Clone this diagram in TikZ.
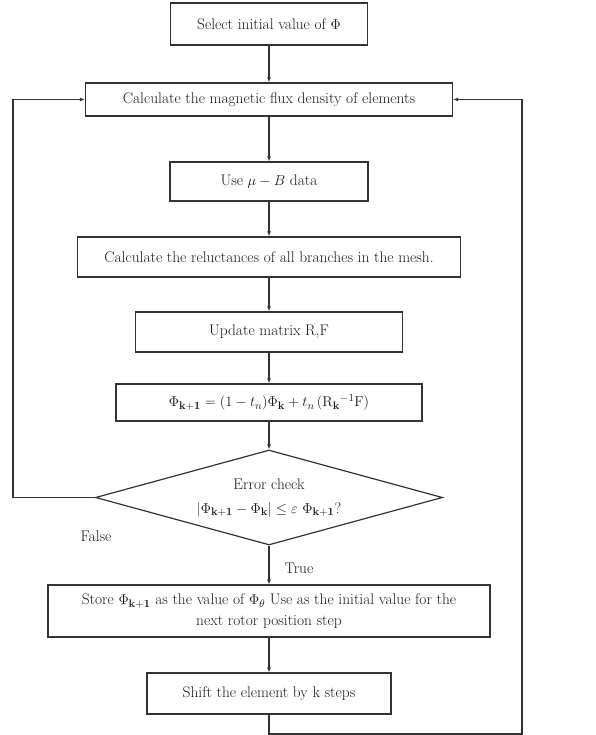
\documentclass[tikz,border=0pt]{standalone}
\usepackage{amsmath, amssymb}
\usepackage{xcolor}
\usepackage{tikz}
\usetikzlibrary{arrows.meta, positioning, shapes.geometric}
\definecolor{trazo}{HTML}{333333}
\definecolor{texto}{HTML}{1A1A1A}
\tikzset{
  every picture/.style={font=\fontsize{15.4}{21}\selectfont, >={Latex[length=5pt,width=4pt]}},
  caja/.style={draw=trazo, text=texto, line width=1.2pt, inner sep=0pt, align=center},
  rombo/.style={caja, diamond, aspect=3.65},
  flecha/.style={->, line width=1.2pt, trazo},
  etiqueta/.style={text=texto, inner sep=0pt},
}
\begin{document}
\begin{tikzpicture}[x=1pt, y=-1pt]
  \useasboundingbox (0,0) rectangle (596,735);
  \node[caja, minimum width=197pt, minimum height=42pt] (sel) at (269,24) {Select initial value of $\Phi$};
  \node[caja, minimum width=367pt, minimum height=33pt] (flux) at (269,99.5) {Calculate the magnetic flux density of elements};
  \node[caja, minimum width=198pt, minimum height=39pt] (mub) at (269,181.5) {Use $\mu - B$ data};
  \node[caja, minimum width=383pt, minimum height=40pt] (rel) at (269,257) {Calculate the reluctances of all branches in the mesh.};
  \node[caja, minimum width=267pt, minimum height=40pt] (upd) at (269,332) {Update matrix R,F};
  \node[caja, minimum width=306pt, minimum height=37pt] (eqn) at (269,402.5)
    {$\Phi_{\mathbf{k+1}} = (1 - t_n)\Phi_{\mathbf{k}} + t_n\,(\mathrm{R}_{\mathbf{k}}{}^{-1}\mathrm{F})$};
  \node[rombo, minimum width=347pt, minimum height=95pt] (err) at (269,497.5)
    {Error check\\[3pt]$|\Phi_{\mathbf{k+1}} - \Phi_{\mathbf{k}}| \le \varepsilon\ \Phi_{\mathbf{k+1}}$?};
  \node[caja, minimum width=442pt, minimum height=52pt] (store) at (269,611)
    {Store $\Phi_{\mathbf{k+1}}$ as the value of $\Phi_{\theta}$ Use as the initial value for the\\next rotor position step};
  \node[caja, minimum width=244pt, minimum height=41pt] (shift) at (269,693.5) {Shift the element by k steps};
  \node[etiqueta] (fal) at (96,536) {False};
  \node[etiqueta] (tru) at (299,568) {True};
  \coordinate (izq) at (13,497.5);
  \coordinate (abajo) at (522,734);
  % flujo principal
  \draw[flecha] (sel) -- (flux);
  \draw[flecha] (flux) -- (mub);
  \draw[flecha] (mub) -- (rel);
  \draw[flecha] (rel) -- (upd);
  \draw[flecha] (upd) -- (eqn);
  \draw[flecha] (eqn) -- (err);
  \draw[flecha] (err) -- (store);
  \draw[flecha] (store) -- (shift);
  % lazos de retorno
  \draw[flecha] (err.west) -- (izq) |- (flux.west);
  \draw[flecha] (shift.south) |- (abajo) |- (flux.east);
\end{tikzpicture}
\end{document}
